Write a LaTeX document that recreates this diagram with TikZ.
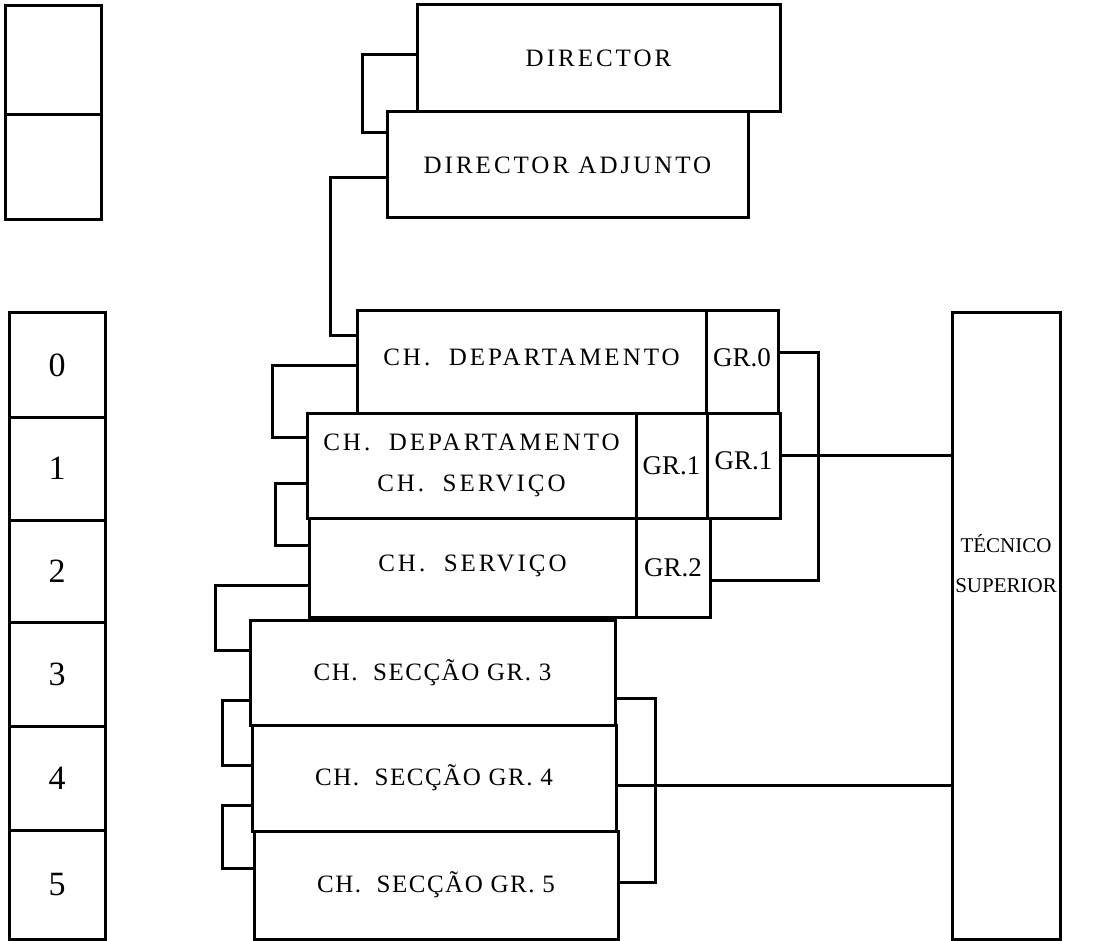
\documentclass[tikz,border=0pt]{standalone}
\usepackage{fontspec}
\setmainfont{Liberation Serif}
\newfontfamily\orgfont{Liberation Serif}[LetterSpace = 12]
\newfontfamily\secfont{Liberation Serif}[LetterSpace = 6]
\newfontfamily\numfont{Liberation Serif}

\begin{document}
\begin{tikzpicture}[x = 1pt, y = -1pt, line width = 3pt,
	box/.style = {draw, inner sep = 0, outer sep = 0, anchor = north west, align = center,
		font = \orgfont\fontsize{25}{41}\selectfont},
	secbox/.style = {box, font = \secfont\fontsize{25}{41}\selectfont},
	cell/.style = {box, font = \numfont\fontsize{27}{30}\selectfont},
	level/.style = {box, minimum width = 96pt, font = \numfont\fontsize{34}{36}\selectfont}]

\useasboundingbox (0, 0) rectangle (1119, 941);

% Empty boxes top left

\node [level, minimum height = 109pt] (blankA) at (5, 6) {};
\node [level, minimum height = 105pt] (blankB) at (5, 115) {};

% Level column

\node [level, minimum height = 104pt] (lvl0) at (9, 313) {0};
\node [level, minimum height = 103pt] (lvl1) at (9, 417) {1};
\node [level, minimum height = 102pt] (lvl2) at (9, 520) {2};
\node [level, minimum height = 104pt] (lvl3) at (9, 622) {3};
\node [level, minimum height = 104pt] (lvl4) at (9, 726) {4};
\node [level, minimum height = 109pt] (lvl5) at (9, 830) {5};

% Direction

\node [box, minimum width = 363pt, minimum height = 107pt] (dir) at (417, 5) {DIRECTOR};
\node [box, minimum width = 361pt, minimum height = 106pt] (adj) at (387, 112) {DIRECTOR ADJUNTO};

% Departments and services

\node [box, minimum width = 349pt, minimum height = 102pt] (dep) at (357, 311) {CH.\ \ DEPARTAMENTO\\[-31pt]};
\node [cell, minimum width = 72pt, minimum height = 102pt] (gr0) at (706, 311) {GR.0\\[-22pt]};

\node [box, minimum width = 329pt, minimum height = 105pt] (depserv) at (307, 413) {CH.\ \ DEPARTAMENTO\\CH.\ \ SERVIÇO};
\node [cell, minimum width = 71pt, minimum height = 105pt] (gr1a) at (636, 413) {GR.1};
\node [cell, minimum width = 73pt, minimum height = 105pt] (gr1b) at (707, 413) {GR.1\\[-20pt]};

\node [box, minimum width = 327pt, minimum height = 99pt] (serv) at (309, 518) {CH.\ \ SERVIÇO\\[-33pt]};
\node [cell, minimum width = 74pt, minimum height = 99pt] (gr2) at (636, 518) {GR.2};

% Sections

\node [secbox, minimum width = 365pt, minimum height = 105pt] (sec3) at (250, 620) {CH.\ \ SECÇÃO GR. 3};
\node [secbox, minimum width = 364pt, minimum height = 106pt] (sec4) at (252, 725) {CH.\ \ SECÇÃO GR. 4};
\node [secbox, minimum width = 364pt, minimum height = 108pt] (sec5) at (254, 831) {CH.\ \ SECÇÃO GR. 5};

% Technical staff

\node [box, minimum width = 108pt, minimum height = 626pt, font = \numfont\fontsize{21}{40}\selectfont] (tec) at (952, 313) {TÉCNICO\\SUPERIOR\\[86pt]};

% Left brackets

\draw ([yshift = 3.5pt] dir.west) -- ++(-55, 0) |- ([yshift = -21pt] adj.north west);
\draw ([yshift = -13pt] adj.west) -- ++(-57, 0) |- ([yshift = -24pt] dep.north west);
\draw ([yshift = -3pt] dep.west) -- ++(-85, 0) |- ([yshift = -24pt] depserv.north west);
\draw ([yshift = -17.5pt] depserv.west) -- ++(-32, 0) |- ([yshift = -27pt] serv.north west);
\draw ([yshift = -17.5pt] serv.west) -- ++(-94, 0) |- ([yshift = -30pt] sec3.north west);
\draw ([yshift = -27.5pt] sec3.west) -- ++(-28, 0) |- ([yshift = -40pt] sec4.north west);
\draw ([yshift = -27pt] sec4.west) -- ++(-30, 0) |- ([yshift = -37pt] sec5.north west);

% Right brackets

\draw ([yshift = 10pt] gr0.east) -- ++(40, 0) |- ([yshift = -62pt] gr2.north east);
\draw ([yshift = -25.5pt] sec3.east) -- ++(40, 0) |- ([yshift = -51pt] sec5.north east);

% Lines to technical staff

\draw ([yshift = 10.5pt] gr1b.east) coordinate (t1) -- (t1 -| tec.west);
\draw ([yshift = -7pt] sec4.east) coordinate (t2) -- (t2 -| tec.west);

\end{tikzpicture}
\end{document}
